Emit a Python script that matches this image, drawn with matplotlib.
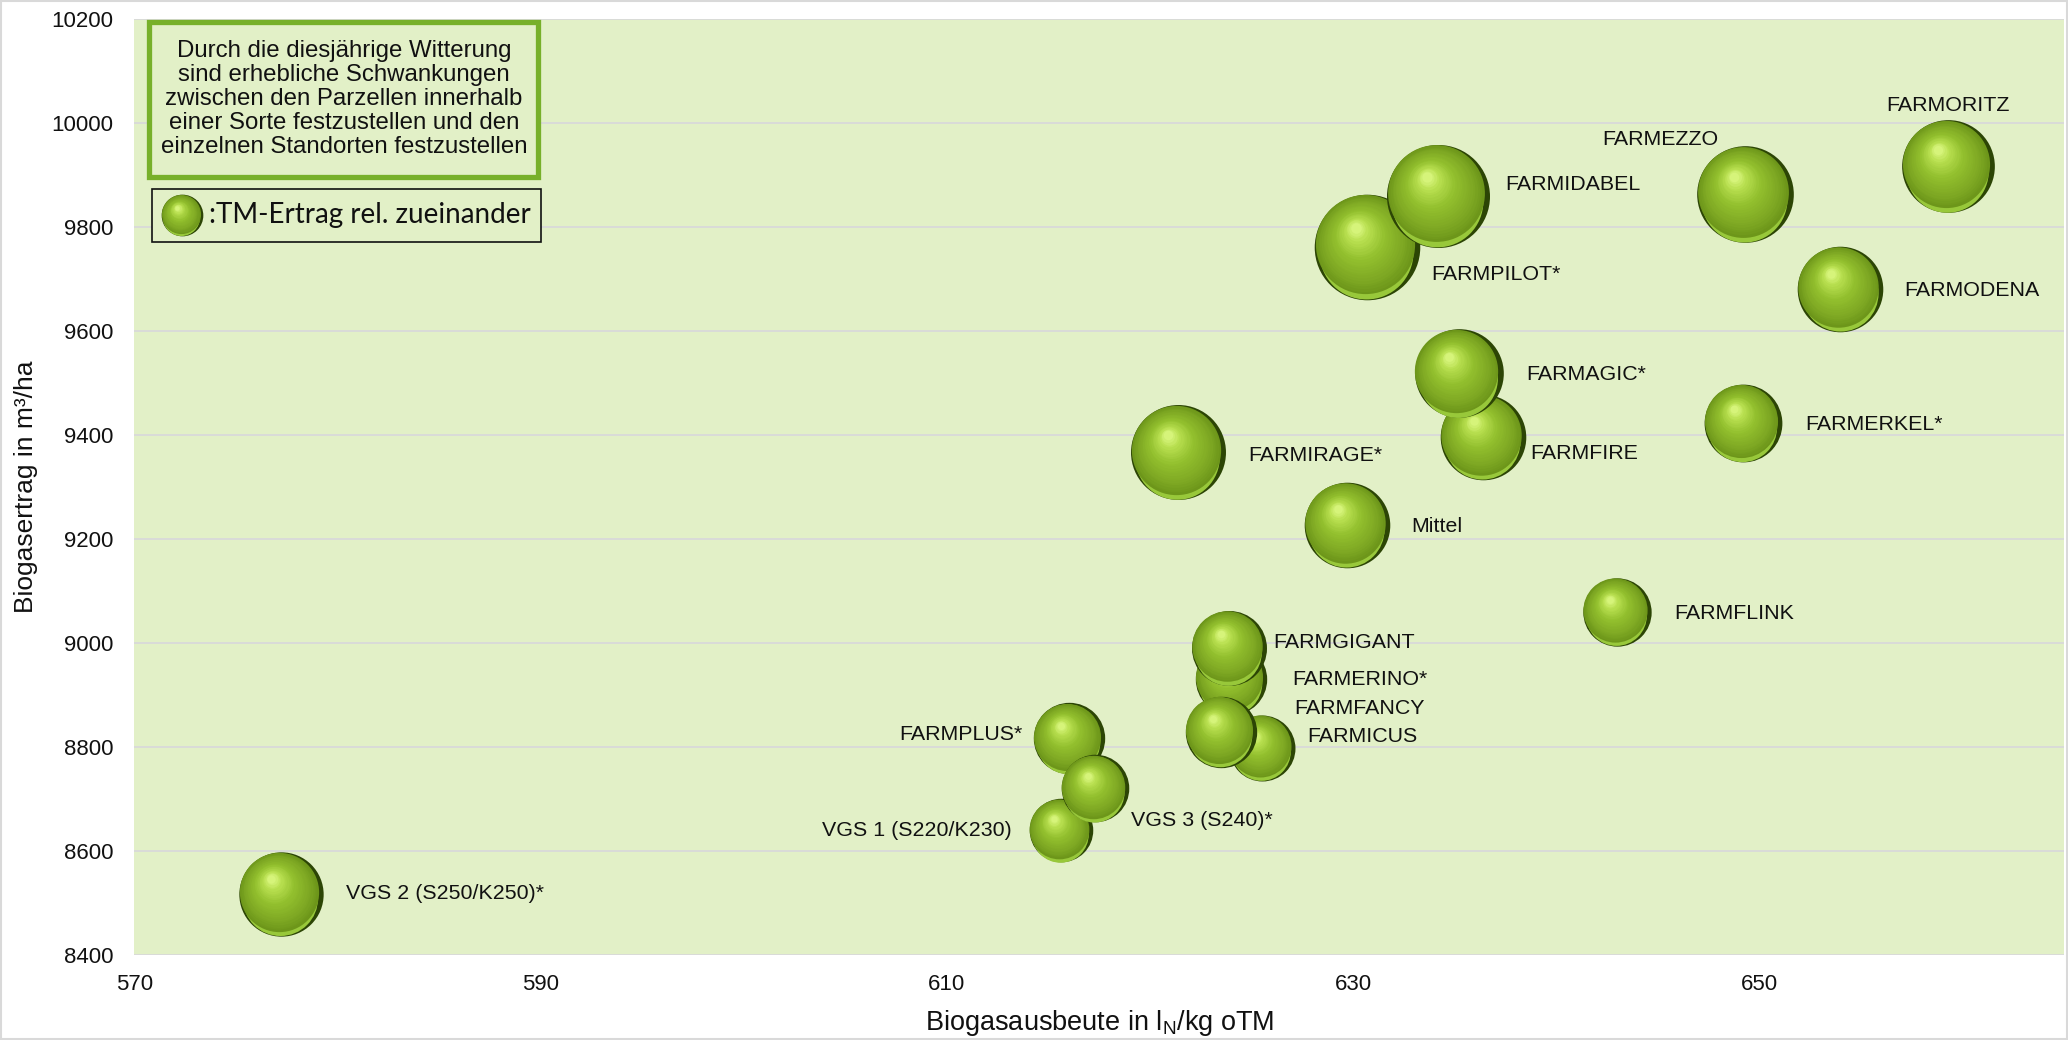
# ========== Bibliotheken ==========
import numpy as np
import matplotlib
matplotlib.use('Agg')
import matplotlib.pyplot as plt
from matplotlib.colors import to_rgb
from matplotlib.patches import Rectangle
from matplotlib.transforms import offset_copy

plt.rcParams['font.family'] = ['Liberation Sans', 'DejaVu Sans']

# ========== Daten ==========
sorten = ['VGS 2 (S250/K250)*', 'FARMPLUS*', 'VGS 1 (S220/K230)', 'VGS 3 (S240)*',
          'FARMICUS', 'FARMERINO*', 'FARMFANCY', 'FARMGIGANT', 'Mittel', 'FARMIRAGE*',
          'FARMFIRE', 'FARMAGIC*', 'FARMPILOT*', 'FARMIDABEL', 'FARMEZZO', 'FARMODENA',
          'FARMORITZ', 'FARMERKEL*', 'FARMFLINK']
ausbeute = [577.2, 616.0, 615.6, 617.3, 625.5, 624.0, 623.5, 623.9, 629.7, 621.4,
            636.4, 635.2, 630.7, 634.2, 649.3, 654.0, 659.3, 649.2, 643.0]
biogasertrag = [8517, 8816, 8639, 8720, 8798, 8930, 8829, 8990, 9227, 9366,
                9396, 9518, 9761, 9860, 9863, 9680, 9916, 9422, 9059]
# TM-Ertrag relativ zueinander (Blasenfläche)
tm_rel = [67, 48, 38, 43, 41, 48, 48, 53, 69, 85,
          69, 74, 105, 100, 88, 69, 81, 57, 44]

x_ticks = [570, 590, 610, 630, 650]
y_ticks = [8400, 8600, 8800, 9000, 9200, 9400, 9600, 9800, 10000, 10200]

# Beschriftungs-Versatz in Punkten (dx, dy, ha)
label_pos = {
    'VGS 2 (S250/K250)*': (47, 0, 'left'),
    'FARMPLUS*': (-33, 3, 'right'),
    'VGS 1 (S220/K230)': (-35, 0, 'right'),
    'VGS 3 (S240)*': (26, -23, 'left'),
    'FARMICUS': (33, 8, 'left'),
    'FARMERINO*': (44, 0, 'left'),
    'FARMFANCY': (53, 17, 'left'),
    'FARMGIGANT': (32, 4, 'left'),
    'Mittel': (46, -1, 'left'),
    'FARMIRAGE*': (50, -2, 'left'),
    'FARMFIRE': (34, -12, 'left'),
    'FARMAGIC*': (49, -1, 'left'),
    'FARMPILOT*': (46, -20, 'left'),
    'FARMIDABEL': (48, 8, 'left'),
    'FARMEZZO': (-61, 39, 'center'),
    'FARMODENA': (46, -1, 'left'),
    'FARMORITZ': (0, 44, 'center'),
    'FARMERKEL*': (45, -1, 'left'),
    'FARMFLINK': (41, -1, 'left'),
}

# ========== Funktionen ==========
farb_stops = [(0.0, '#6d961a'), (0.2, '#7ea823'), (0.55, '#93c02e'),
              (0.85, '#b8df50'), (1.0, '#d6f47a')]


def verlauf(t):
    pos = [p for p, _ in farb_stops]
    cols = np.array([to_rgb(c) for _, c in farb_stops])
    return tuple(np.interp(t, pos, cols[:, k]) for k in range(3))


def kugel(ax, fig, x, y, d, transform, z, n=24):
    """Zeichnet eine schattierte Kugel mit Durchmesser d (Punkte)."""
    r = d / 2
    # dunkler Rand, heller Reflex unten, dann Verlauf zum Glanzpunkt
    schichten = [(0, 0, d, '#2c4505'),
                 (-0.02 * r, -0.10 * r, 1.78 * r, '#98c83a')]
    for t in np.linspace(0, 1, n):
        rr = r * (0.94 * (1 - t) + 0.10 * t)
        dx = -r * (0.05 + 0.17 * t)
        dy = r * (0.05 + 0.31 * t)
        schichten.append((dx, dy, 2 * rr, verlauf(t)))
    for dx, dy, dd, c in schichten:
        tr = offset_copy(transform, fig=fig, x=dx, y=dy, units='points')
        ax.scatter([x], [y], s=dd ** 2, color=c, transform=tr, zorder=z,
                   linewidths=0, clip_on=False)


# ========== Grafik ==========
fig = plt.figure(figsize=(20.68, 10.4), dpi=100)
ax = fig.add_axes([0.065, 0.082, 0.933, 0.9])
ax.set_facecolor('#e2f0c7')

d_max = 76 / np.sqrt(105)
for i, (s, x, y, v) in enumerate(zip(sorten, ausbeute, biogasertrag, tm_rel)):
    d = d_max * np.sqrt(v)
    kugel(ax, fig, x, y, d, ax.transData, 3 + i * 0.01)
    dx, dy, ha = label_pos[s]
    ax.annotate(s, (x, y), xytext=(dx, dy), textcoords='offset points',
                ha=ha, va='center', fontsize=15.4, color='#111111', zorder=5)

ax.set_xlim(570, 665)
ax.set_ylim(8400, 10200)
ax.set_xticks(x_ticks)
ax.set_yticks(y_ticks)
ax.tick_params(length=0, labelsize=16, colors='#111111')
ax.tick_params(axis='y', pad=15)
ax.tick_params(axis='x', pad=14)
ax.grid(axis='y', color='#d9d9d9', linewidth=1.3)
ax.set_axisbelow(True)
for sp in ax.spines.values():
    sp.set_visible(False)

ax.set_xlabel(r'Biogasausbeute in l$_\mathregular{N}$/kg oTM', fontsize=19.5,
              color='#111111', labelpad=9)
ax.set_ylabel('Biogasertrag in m³/ha', fontsize=19, color='#111111', labelpad=10)

# Hinweisbox
ax.add_patch(Rectangle((0.0075, 0.831), 0.2015, 0.166, transform=ax.transAxes,
                       facecolor='#e2f0c7', edgecolor='#77b02a', linewidth=3.8,
                       zorder=6))
ax.text(0.1085, 0.914, 'Durch die diesjährige Witterung\nsind erhebliche Schwankungen\n'
        'zwischen den Parzellen innerhalb\neiner Sorte festzustellen und den\n'
        'einzelnen Standorten festzustellen', transform=ax.transAxes,
        ha='center', va='center', fontsize=17.3, linespacing=1.12, zorder=7,
        color='#111111')

# Legende
ax.add_patch(Rectangle((0.0089, 0.761), 0.2016, 0.057, transform=ax.transAxes,
                       facecolor='#e2f0c7', edgecolor='#111111', linewidth=1.2,
                       zorder=6))
kugel(ax, fig, 0.0246, 0.790, 30, ax.transAxes, 7)
ax.text(0.0385, 0.790, ':TM-Ertrag rel. zueinander', transform=ax.transAxes,
        ha='left', va='center', fontsize=20, family=['Lato', 'DejaVu Sans'],
        zorder=8, color='#111111')

# Rahmen um das Diagramm
fig.patches.append(Rectangle((0.0005, 0.001), 0.999, 0.998, transform=fig.transFigure,
                             fill=False, edgecolor='#d9d9d9', linewidth=1.5))

fig.savefig('out.png', dpi=100, facecolor='white')
